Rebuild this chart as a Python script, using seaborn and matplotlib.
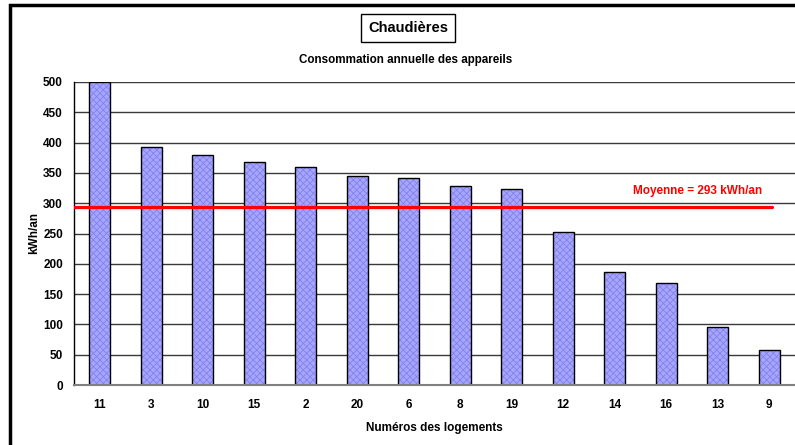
import matplotlib
matplotlib.use("Agg")
import matplotlib.pyplot as plt
from matplotlib.patches import Rectangle
from matplotlib.ticker import FixedLocator
import pandas as pd
import seaborn as sns

# données
logements = ["11", "3", "10", "15", "2", "20", "6", "8", "19", "12", "14", "16", "13", "9"]
conso = [500, 393, 380, 368, 360, 345, 342, 328, 323, 253, 186, 168, 95, 58]
moyenne = 293
yticks = list(range(0, 501, 50))

sns.set_style("white")
plt.rcParams['font.family'] = ['Liberation Sans', 'DejaVu Sans']
plt.rcParams['hatch.linewidth'] = 0.6
for k in ['text.color', 'axes.labelcolor', 'xtick.color', 'ytick.color']:
    plt.rcParams[k] = 'black'

df = pd.DataFrame({"logement": logements, "kwh": conso})

fig = plt.figure(figsize=(7.95, 4.45), dpi=100)
ax = fig.add_axes([74 / 795, 60 / 445, 1 - 74 / 795, 303 / 445])

for y in yticks[1:]:
    ax.axhline(y, color='#3a3a3a', lw=1, zorder=0)

# remplissage hachuré (couleur des hachures = couleur du bord)
sns.barplot(data=df, x="logement", y="kwh", order=logements, color='#a6a6ff',
            width=0.4, saturation=1, edgecolor='#8282ea', linewidth=0, ax=ax, zorder=2)
for p in ax.patches:
    p.set_hatch('xxxxx')
# contour noir
sns.barplot(data=df, x="logement", y="kwh", order=logements, color='black', fill=False,
            width=0.4, saturation=1, linewidth=1, ax=ax, zorder=2.5)

ax.plot([-0.5, 13.05], [moyenne, moyenne], color='#ff0000', lw=2.3, zorder=3)
ax.text(11.6, moyenne + 18, "Moyenne = 293 kWh/an", color='#ff0000', fontsize=8.5,
        fontweight='bold', ha='center', va='bottom')

ax.set_xlim(-0.5, len(logements) - 0.5)
ax.set_ylim(0, 500)
ax.set_yticks(yticks)
ax.set_yticklabels([str(v) for v in yticks], fontsize=8.5, fontweight='bold')
ax.set_xticks(range(len(logements)))
ax.set_xticklabels(logements, fontsize=8.5, fontweight='bold')
ax.xaxis.set_minor_locator(FixedLocator([i + 0.5 for i in range(len(logements) - 1)]))
ax.tick_params(axis='x', which='major', length=0, pad=10)
ax.tick_params(axis='x', which='minor', length=5, width=1, color='black', direction='inout')
ax.tick_params(axis='y', length=5, width=1, color='black', direction='out', pad=3)

for s in ['top', 'right']:
    ax.spines[s].set_visible(False)
ax.spines['left'].set_color('black')
ax.spines['left'].set_linewidth(1)
ax.spines['bottom'].set_color('#808080')
ax.spines['bottom'].set_linewidth(1.5)

ax.set_xlabel("Numéros des logements", fontsize=8.5, fontweight='bold', labelpad=8)
ax.set_ylabel("kWh/an", fontsize=8.5, fontweight='bold', labelpad=2)

fig.text(408 / 795, 1 - 28 / 445, "Chaudières", fontsize=10.5, fontweight='bold',
         ha='center', va='center',
         bbox=dict(boxstyle='square,pad=0.5', fc='white', ec='black', lw=1))
fig.text(406 / 795, 1 - 60 / 445, "Consommation annuelle des appareils", fontsize=8.4,
         fontweight='bold', ha='center', va='center')

# cadre du graphique
fig.patches.append(Rectangle((10 / 795, -0.1), 1.2, 1 - 5 / 445 + 0.1, transform=fig.transFigure,
                             fill=False, ec='black', lw=2.5))

fig.savefig("out.png", dpi=100)
